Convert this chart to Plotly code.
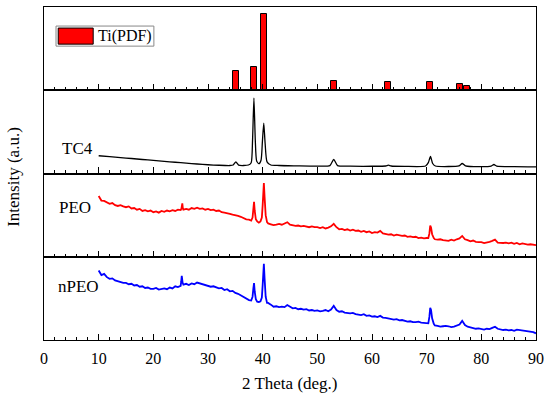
import numpy as np
import plotly.graph_objects as go
from plotly.subplots import make_subplots

# ---------------- data ----------------
# Ti reference pattern (PDF) - relative intensity (panel units 0-100)
pdf_x = [35.1, 38.4, 40.2, 53.0, 62.9, 70.6, 76.1, 77.3]
pdf_y = [22.9, 27.7, 91.6, 10.8, 9.6, 9.6, 7.2, 4.8]

# TC4 substrate
tc4_x = [10, 12, 14, 16, 18, 20, 22, 24, 26, 28, 30, 32, 34, 34.6, 35.1, 35.6, 36.5,
         37.4, 37.9, 38.15, 38.4, 38.65, 38.9, 39.3, 39.7, 39.95, 40.2, 40.45, 40.8,
         41.5, 43, 46, 50, 52.3, 53, 53.7, 56, 60, 62.5, 63, 63.5, 66, 69.8, 70.3,
         70.7, 71.1, 71.6, 74, 75.9, 76.5, 77.1, 80, 81.8, 82.3, 82.8, 86, 90]
tc4_y = [21.3, 20.2, 19.1, 18.0, 16.8, 15.7, 14.6, 13.5, 12.5, 11.4, 10.5, 9.9, 9.6,
         10.2, 14.0, 10.0, 9.6, 10.2, 13.0, 40.0, 90.5, 40.0, 15.0, 11.8, 16.0, 38.0,
         60.5, 36.0, 14.0, 10.2, 9.6, 9.2, 8.8, 9.5, 16.9, 9.5, 8.8, 8.7, 9.0, 10.0,
         9.0, 8.6, 9.0, 13.0, 20.5, 12.0, 9.0, 8.4, 9.2, 12.0, 9.2, 8.2, 9.0, 10.8,
         9.0, 8.2, 8.0]

# PEO coating: 0.5 deg sampled background from 10 to 90 deg
scan_start, scan_end, scan_step = 10.0, 90.0, 0.5
peo_bg = [73, 67.5, 67, 65.5, 63.5, 64.5, 62, 61, 62, 60.5,
          59.5, 60.5, 58, 58.5, 56.5, 57.5, 55, 56, 54.5, 55.5,
          53.5, 54.5, 53, 55, 54, 55.5, 54.5, 56, 55, 56.5,
          56, 56.5, 57.5, 56.5, 58.5, 57.5, 59, 57.5, 58, 56.5,
          57.5, 56, 56.5, 55, 55.5, 53.5, 53, 52.5, 51.5, 50.5,
          50, 49, 48, 46.5, 45, 44.5, 43, 42, 42, 41.5,
          42, 40.5, 40, 39, 38, 38.5, 39.5, 38.5, 40.5, 41.5,
          38.5, 37.5, 37, 37.5, 36.5, 37, 36, 35.5, 36.5, 35.5,
          35.5, 34.5, 35.5, 34, 35, 36.5, 39.5, 35.5, 33, 33.5,
          32, 33, 31.5, 32.5, 31, 31.5, 30, 31, 29.5, 30.5,
          28.5, 29.5, 29, 31, 28, 27.5, 26.5, 27, 25.5, 26.5,
          26, 25, 25.5, 24, 24.5, 23.5, 24, 22.5, 23, 22,
          22.5, 21.5, 22, 21, 20.5, 21, 20, 19.5, 19, 20.5,
          19.5, 21, 22, 25, 21, 20, 18.5, 19.5, 18, 17.5,
          17.5, 16.5, 17, 18, 19, 20.5, 17, 16.5, 16.5, 17,
          16, 17, 15.5, 16.5, 15, 16, 15.5, 14.5, 15, 14.5,
          14]
peo_pk_x = [25.15, 25.3, 25.4,
            37.9, 38.15, 38.3, 38.42, 38.55, 38.75, 39.0, 39.3, 39.6, 39.85, 40.0,
            40.12, 40.22, 40.35, 40.55, 40.8,
            70.3, 70.5, 70.65, 70.8, 71.0, 71.3]
peo_pk_y = [58, 64, 58,
            43.5, 47, 58, 66, 55, 45, 42.5, 41, 42.5, 47, 62,
            82, 88.5, 72, 50, 41.5,
            22.5, 28, 37.5, 35, 27, 22.5]

# nPEO coating
npeo_bg = [83.5, 78, 79.5, 75.5, 73.5, 74, 71.5, 70.5, 70, 68.5,
           68.5, 67, 67.5, 65.5, 66, 64, 64.5, 62.5, 63, 61.5,
           61.5, 62.5, 60.5, 61.5, 62, 61, 63, 62, 64.5, 63.5,
           65, 66.5, 67.5, 66, 68, 67, 69, 68, 67.5, 66,
           65.5, 64, 64.5, 63, 62, 62.5, 60, 61, 58.5, 59,
           56.5, 55.5, 53.5, 52, 49.5, 48, 47, 46.5, 46, 45.5,
           45, 44, 44.5, 42.5, 40, 40.5, 39.5, 40, 39.5, 42,
           39.5, 38, 38.5, 37, 37.5, 36.5, 37, 35.5, 36, 35,
           35.5, 34.5, 35, 36, 34.5, 36.5, 41, 36, 34, 34.5,
           33, 32.5, 32, 32.5, 31, 30.5, 30, 31, 29, 29.5,
           28, 28.5, 27.5, 29, 27, 26.5, 26, 25.5, 24.5, 25,
           23.5, 24, 23, 22, 22.5, 21.5, 21.5, 22, 21, 20.5,
           20, 19.5, 19, 17.5, 17, 16, 16.5, 17, 16.5, 15.5,
           16, 17, 18.5, 23, 18, 16, 15, 14, 13.5, 14,
           13, 12.5, 13.5, 13, 14.5, 16, 13.5, 12.5, 12, 12.5,
           11.5, 12, 11, 12.5, 12, 11.5, 11, 10.5, 10, 9.5,
           8]
npeo_pk_x = [25.1, 25.2, 25.35,
             37.9, 38.15, 38.3, 38.42, 38.55, 38.75, 39.0, 39.3, 39.6, 39.85, 40.0,
             40.12, 40.22, 40.35, 40.55, 40.8,
             70.3, 70.5, 70.65, 70.8, 71.0, 71.3]
npeo_pk_y = [70, 77, 69,
             47.5, 52, 62, 68.3, 58, 49, 46, 45.5, 46.5, 51, 66,
             86, 91.6, 74, 52, 44.5,
             20, 28, 38.5, 36, 26, 19.5]

sample_labels = ["TC4", "PEO", "nPEO"]
legend_label = "Ti(PDF)"
x_title = "2 Theta (deg.)"
y_title = "Intensity (a.u.)"
x_tickvals = [0, 10, 20, 30, 40, 50, 60, 70, 80, 90]


def merge(bg, pk_x, pk_y):
    gx = np.round(np.arange(scan_start, scan_end + scan_step / 2, scan_step), 3)
    gy = np.array(bg, dtype=float)
    pk_x = np.array(pk_x, dtype=float)
    pk_y = np.array(pk_y, dtype=float)
    keep = np.ones(len(gx), dtype=bool)
    groups = []
    start = 0
    for i in range(1, len(pk_x) + 1):
        if i == len(pk_x) or pk_x[i] - pk_x[i - 1] > 1.0:
            groups.append((pk_x[start], pk_x[i - 1]))
            start = i
    for lo, hi in groups:
        keep &= ~((gx >= lo) & (gx <= hi))
    x = np.concatenate([gx[keep], pk_x])
    y = np.concatenate([gy[keep], pk_y])
    order = np.argsort(x)
    return x[order], y[order]


peo_x, peo_y = merge(peo_bg, peo_pk_x, peo_pk_y)
npeo_x, npeo_y = merge(npeo_bg, npeo_pk_x, npeo_pk_y)

# ---------------- figure ----------------
FONT = "Liberation Serif"
fig = make_subplots(rows=4, cols=1, shared_xaxes=True, vertical_spacing=0)

fig.add_trace(go.Bar(x=pdf_x, y=pdf_y, width=1.1,
                     marker=dict(color="#FF0000", line=dict(color="black", width=1)),
                     showlegend=False), row=1, col=1)
fig.add_trace(go.Scatter(x=tc4_x, y=tc4_y, mode="lines",
                         line=dict(color="black", width=1.3, shape="spline", smoothing=0.6),
                         showlegend=False), row=2, col=1)
fig.add_trace(go.Scatter(x=peo_x, y=peo_y, mode="lines",
                         line=dict(color="#FF0000", width=1.8),
                         showlegend=False), row=3, col=1)
fig.add_trace(go.Scatter(x=npeo_x, y=npeo_y, mode="lines",
                         line=dict(color="#0000FF", width=1.8),
                         showlegend=False), row=4, col=1)

for r in range(1, 5):
    fig.update_xaxes(range=[0, 90], tickvals=x_tickvals, ticks="inside", ticklen=6,
                     tickwidth=1, tickcolor="black",
                     minor=dict(dtick=2, tick0=0, ticks="inside", ticklen=3,
                                tickwidth=1, tickcolor="black"),
                     showline=True, linecolor="black", linewidth=1.3, mirror=True,
                     showgrid=False, zeroline=False,
                     showticklabels=(r == 4),
                     tickfont=dict(family=FONT, size=16, color="black"),
                     row=r, col=1)
    fig.update_yaxes(range=[0, 100], showticklabels=False, ticks="",
                     showline=True, linecolor="black", linewidth=1.3, mirror=True,
                     showgrid=False, zeroline=False, row=r, col=1)

fig.update_xaxes(ticklabelstandoff=4, row=4, col=1)

annotations = []
label_pos = [(2.9, 30, "y2"), (2.4, 59.5, "y3"), (2.2, 64, "y4")]
for txt, (lx, ly, yr) in zip(sample_labels, label_pos):
    annotations.append(dict(x=lx, y=ly, xref="x", yref=yr, text=txt, showarrow=False,
                            xanchor="left", yanchor="middle",
                            font=dict(family=FONT, size=17, color="black")))
annotations.append(dict(x=9.6, y=65, xref="x", yref="y", text=legend_label, showarrow=False,
                        xanchor="left", yanchor="middle",
                        font=dict(family=FONT, size=16, color="black")))
annotations.append(dict(x=0.5, y=-0.13, xref="paper", yref="paper", text=x_title,
                        showarrow=False, xanchor="center", yanchor="middle",
                        font=dict(family=FONT, size=17, color="black")))
annotations.append(dict(x=-0.061, y=0.49, xref="paper", yref="paper", text=y_title,
                        showarrow=False, textangle=-90, xanchor="center", yanchor="middle",
                        font=dict(family=FONT, size=17, color="black")))

shapes = [
    dict(type="rect", xref="x", yref="y", x0=2.2, x1=20.1, y0=53, y1=77.1,
         line=dict(color="#888888", width=1), fillcolor="white", layer="above"),
    dict(type="rect", xref="x", yref="y", x0=2.6, x1=9.0, y0=55.4, y1=74.7,
         line=dict(color="black", width=1), fillcolor="#FF0000", layer="above"),
]

fig.update_layout(width=550, height=395,
                  margin=dict(l=44, r=14, t=7, b=55),
                  paper_bgcolor="white", plot_bgcolor="white",
                  annotations=annotations, shapes=shapes,
                  bargap=0, showlegend=False)

fig.write_html("out.html", config={"displayModeBar": False},
               post_script="document.body.style.margin='0';document.body.style.padding='0';")
